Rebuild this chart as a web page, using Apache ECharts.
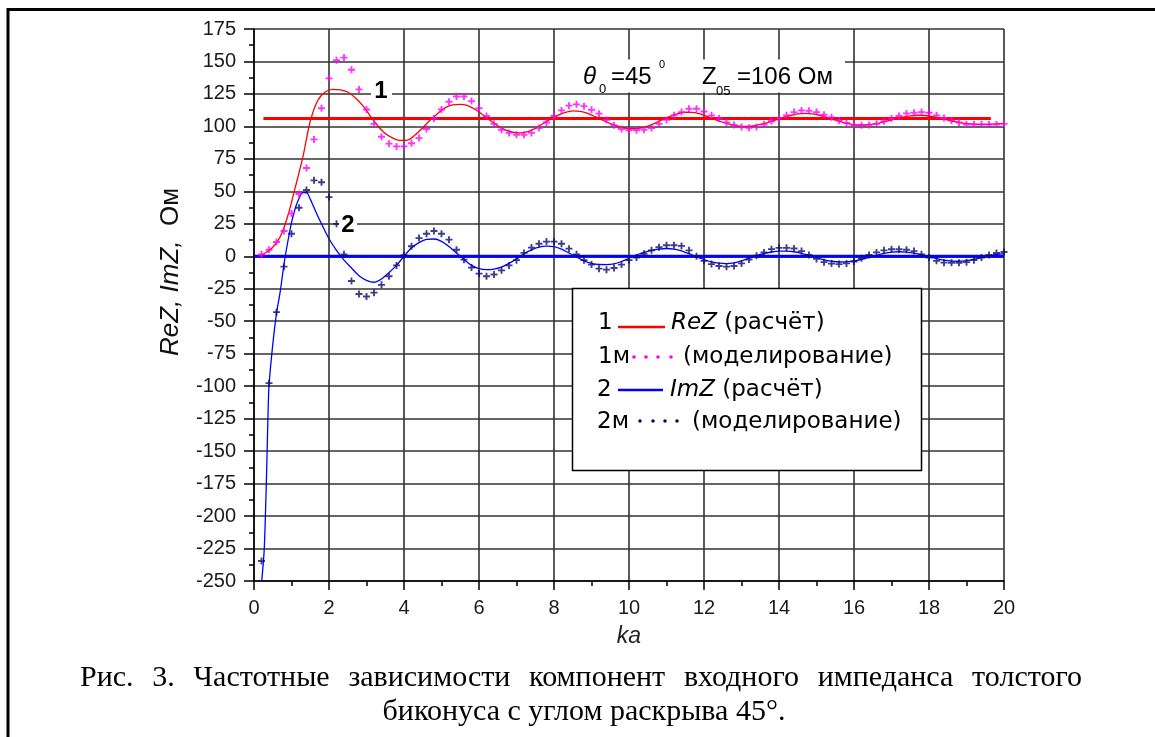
<!DOCTYPE html>
<html>
<head>
<meta charset="utf-8">
<script src="https://cdn.jsdelivr.net/npm/echarts@6/dist/echarts.min.js"></script>
<style>
html, body { margin: 0; padding: 0; background: #fff; }
#chart { width: 1155px; height: 737px; }
</style>
</head>
<body>
<div id="chart"></div>
<script>
// ka для моделирования (точки 1м, 2м)
var kaSim = [0.2,0.4,0.6,0.8,1.0,1.2,1.4,1.6,1.8,2.0,2.2,2.4,2.6,2.8,3.0,3.2,3.4,3.6,3.8,4.0,
  4.2,4.4,4.6,4.8,5.0,5.2,5.4,5.6,5.8,6.0,6.2,6.4,6.6,6.8,7.0,7.2,7.4,7.6,7.8,8.0,
  8.2,8.4,8.6,8.8,9.0,9.2,9.4,9.6,9.8,10.0,10.2,10.4,10.6,10.8,11.0,11.2,11.4,11.6,11.8,12.0,
  12.2,12.4,12.6,12.8,13.0,13.2,13.4,13.6,13.8,14.0,14.2,14.4,14.6,14.8,15.0,15.2,15.4,15.6,15.8,16.0,
  16.2,16.4,16.6,16.8,17.0,17.2,17.4,17.6,17.8,18.0,18.2,18.4,18.6,18.8,19.0,19.2,19.4,19.6,19.8,20.0];
var reSim = [1.5,5,11,19.5,33,48,68,90,114,137,151,153,143.6,128.5,113,102,92,86.7,84.6,84.6,
  87,91,98,106,113,119,123,123,119.5,114,108,102,97.4,95,93.6,93.6,95,98.7,103,108,
  112.3,116,117,115.6,112.8,109.8,105,100.8,98,97,97,97.4,98.7,102,105,108.5,111,113.6,113.6,111.5,
  108.5,106,103,101,99.5,99,99.5,101.5,104,106.4,108.5,111,112.3,112,111,109,107,104.6,102.6,101,
  100.8,101,102,104,106,108,110,110.5,111,110.5,108.5,106.4,104.6,103,101.5,101.5,101.5,101.5,101.5,102];
var imSim = [-234.6,-97.7,-43,-8,17.4,37.4,51,58.5,57,45.6,25,1.5,-19,-29,-31,-28,-22,-15.4,-7,0.8,
  7.7,14,17.4,19.5,17.4,12.8,5,-2.6,-8.7,-13.3,-15.4,-14,-10.8,-7,-3,2.6,6.7,9.7,11.3,11.3,
  9.7,5.9,1.5,-3,-6.4,-9.5,-10.3,-9,-6.4,-3,-1,2,4.6,7,8.5,8.5,8,4.6,0,-3.5,
  -6,-7.5,-8,-7.5,-5.5,-2.5,0.5,3,5.5,6.5,6.5,6,4,1,-2,-4.5,-5.6,-6,-5.5,-4,
  -1.5,1,3,4.6,5.4,5.4,5,4,1.5,-1,-3.5,-4.9,-5,-5,-4.5,-3,-1,1,2.5,3.3];

// расчёт ReZ
var kaRe = [0.1,0.3,0.5,0.7,0.9,1.1,1.3,1.5,1.7,1.9,2.1,2.3,2.5,2.7,2.9,3.1,3.3,3.5,3.7,3.9,
  4.1,4.3,4.5,4.7,4.9,5.1,5.3,5.5,5.7,5.9,6.1,6.3,6.5,6.7,6.9,7.1,7.3,7.5,7.7,7.9,
  8.1,8.3,8.5,8.7,8.9,9.1,9.3,9.5,9.7,9.9,10.1,10.3,10.5,10.7,10.9,11.1,11.3,11.5,11.7,11.9,
  12.1,12.3,12.5,12.7,12.9,13.1,13.3,13.5,13.7,13.9,14.1,14.3,14.5,14.7,14.9,15.1,15.3,15.5,15.7,15.9,
  16.1,16.3,16.5,16.7,16.9,17.1,17.3,17.5,17.7,17.9,18.1,18.3,18.5,18.7,18.9,19.1,19.3,19.5,19.7,19.9,20.0];
var reCalc = [0,2.5,7,15,31,53,76,104,120,126.5,128.5,128.2,126.5,122,116,108,100.5,94.5,91,89.2,
  89.5,93.5,99,105,110,114.5,116.5,117,116,113,109,104.5,100.5,97.3,95.5,95,96,98.5,102,105.5,
  108.5,110.8,112,111.6,110,107.5,104.8,102.2,100.2,98.7,98.2,98.7,100.2,102.5,105.3,107.8,109.8,110.9,110.8,109.6,
  107.6,105.3,103.2,101.5,100.4,100,100.4,101.5,103,104.9,106.8,108.4,109.6,110,109.6,108.4,106.7,104.8,103.1,101.8,
  101.1,101.1,101.7,102.8,104.2,105.7,107.1,108.1,108.6,108.4,107.6,106.3,104.9,103.6,102.6,101.9,101.6,101.6,101.8,102.1,102.3];

// расчёт ImZ
var kaIm = [0.2,0.27,0.31,0.34,0.37,0.4,0.5,0.6,0.7,0.8,0.9,1.0,1.1,1.2,1.3,1.4,1.5,1.6,1.7,1.8,
  2.0,2.2,2.4,2.6,2.8,3.0,3.2,3.4,3.6,3.8,4.0,4.2,4.4,4.6,4.8,5.0,5.2,5.4,5.6,5.8,
  6.0,6.2,6.4,6.6,6.8,7.0,7.2,7.4,7.6,7.8,8.0,8.2,8.4,8.6,8.8,9.0,9.2,9.4,9.6,9.8,
  10.0,10.2,10.4,10.6,10.8,11.0,11.2,11.4,11.6,11.8,12.0,12.2,12.4,12.6,12.8,13.0,13.2,13.4,13.6,13.8,
  14.0,14.2,14.4,14.6,14.8,15.0,15.2,15.4,15.6,15.8,16.0,16.2,16.4,16.6,16.8,17.0,17.2,17.4,17.6,17.8,
  18.0,18.2,18.4,18.6,18.8,19.0,19.2,19.4,19.6,19.8,20.0];
var imCalc = [-252,-227,-194,-162,-126,-100,-68,-44,-27,-6,11,26,37,44.5,49,49,44,37.5,31,25,
  13.5,4.5,-3,-9,-15,-18.5,-20,-17.5,-12.5,-7,0,6.5,10.5,13,13.3,11.5,7.5,2.5,-2.5,-7,
  -9.5,-10.2,-9.8,-8.3,-5.5,-2,2,5,7,7.8,7.5,5.5,2.5,-0.5,-3.5,-5.5,-6.3,-6.4,-5.8,-4,
  -1.5,1,3,4.5,5.5,6,5.5,4.2,2,-0.5,-2.5,-4.3,-5.3,-5.6,-5,-3.5,-1.5,0.5,2,3.3,
  4,4,3.5,2.3,0.7,-1,-2.7,-3.8,-4.4,-4.3,-3.6,-2.3,-0.8,0.8,2.2,3.2,3.5,3.2,2.4,1.2,
  -0.3,-1.8,-3,-3.7,-3.8,-3.3,-2.3,-1,0.3,1.4,2];

// уровни Z0б и нуля
var zLevel = 106;
var zLevelKa = [0.25, 19.65];
var zeroKa = [0, 20];

var yTicks = {min: -250, max: 175, step: 25};
var xTicks = {min: 0, max: 20, step: 2};

function zip(xs, ys) {
    return xs.map(function (x, i) { return [x, ys[i]]; });
}

var plusPath = 'path://M0,2.2H2.2V0H3.8V2.2H6V3.8H3.8V6H2.2V3.8H0Z';
var sans = '"Liberation Sans", Arial, sans-serif';
var serifFont = '30px "Liberation Serif", "Times New Roman", serif';
var gridColor = '#333';

function txt(text, x, y, font, extra) {
    var st = {text: text, x: x, y: y, font: font, fill: '#000', textFill: '#000',
        align: 'left', textAlign: 'left', verticalAlign: 'middle', textVerticalAlign: 'middle'};
    for (var k in extra) st[k] = extra[k];
    return {type: 'text', z: 100, style: st};
}

// строка подписи, выровненная по ширине (как в документе)
function justifiedLine(line, x0, x1, y, font) {
    var ctx = document.createElement('canvas').getContext('2d');
    ctx.font = font;
    var words = line.split(' ');
    var widths = words.map(function (w) { return ctx.measureText(w).width; });
    var total = widths.reduce(function (a, b) { return a + b; }, 0);
    var gap = (x1 - x0 - total) / (words.length - 1);
    var out = [];
    var x = x0;
    words.forEach(function (w, i) {
        out.push(txt(w, x, y, font));
        x += widths[i] + gap;
    });
    return out;
}

var legendFont = '23px "DejaVu Sans", sans-serif';
var legendItalic = {rich: {i: {fontStyle: 'italic', font: 'italic 23px "DejaVu Sans", sans-serif'}}};

var graphics = [
    // рамка рисунка
    {type: 'line', z: 100, shape: {x1: 8, y1: 9.5, x2: 1160, y2: 9.5}, style: {stroke: '#000', lineWidth: 3}},
    {type: 'line', z: 100, shape: {x1: 8, y1: 8, x2: 8, y2: 740}, style: {stroke: '#000', lineWidth: 3}},

    // подпись оси Y
    {type: 'text', z: 100, rotation: Math.PI / 2, x: 171, y: 272,
        style: {text: '{i|ReZ, ImZ,}{n|  Ом}', x: 0, y: 0, fill: '#111', textFill: '#111',
            align: 'center', textAlign: 'center', verticalAlign: 'middle', textVerticalAlign: 'middle',
            rich: {
                i: {fontStyle: 'italic', font: 'italic 26px ' + sans, fill: '#111', textFill: '#111'},
                n: {font: '26px ' + sans, fill: '#111', textFill: '#111'}
            }}},

    // подпись параметров
    {type: 'rect', z: 90, shape: {x: 555, y: 59.5, width: 290, height: 33}, style: {fill: '#fff'}},
    txt('θ', 583, 77, 'italic 24px ' + sans),
    txt('0', 599, 89, '13px ' + sans),
    txt('=45', 611, 77, '24px ' + sans),
    txt('0', 659, 65, '11px ' + sans),
    txt('Z', 702, 77, '24px ' + sans),
    txt('05', 716, 91, '13px ' + sans),
    txt('=106 Ом', 737, 77, '24px ' + sans),

    // номера кривых
    {type: 'rect', z: 90, shape: {x: 371, y: 84, width: 21, height: 17}, style: {fill: '#fff'}},
    txt('1', 381, 91, 'bold 24px ' + sans, {align: 'center', textAlign: 'center'}),
    {type: 'rect', z: 90, shape: {x: 339, y: 216, width: 18, height: 17}, style: {fill: '#fff'}},
    txt('2', 348, 225, 'bold 24px ' + sans, {align: 'center', textAlign: 'center'}),

    // легенда
    {type: 'rect', z: 90, shape: {x: 572.5, y: 288.5, width: 349, height: 182}, style: {fill: '#fff', stroke: '#000', lineWidth: 1.5}},
    txt('1', 598, 323, legendFont),
    {type: 'line', z: 100, shape: {x1: 618, y1: 327, x2: 665, y2: 327}, style: {stroke: '#ff0000', lineWidth: 2.5}},
    txt('{i|ReZ} (расчёт)', 671, 323, legendFont, legendItalic),
    txt('1м', 598, 357, legendFont),
    {type: 'circle', z: 100, shape: {cx: 634, cy: 357, r: 1.8}, style: {fill: '#ff00ff'}},
    {type: 'circle', z: 100, shape: {cx: 646, cy: 357, r: 1.8}, style: {fill: '#ff00ff'}},
    {type: 'circle', z: 100, shape: {cx: 658, cy: 357, r: 1.8}, style: {fill: '#ff00ff'}},
    {type: 'circle', z: 100, shape: {cx: 671, cy: 357, r: 1.8}, style: {fill: '#ff00ff'}},
    txt('(моделирование)', 683, 357, legendFont),
    txt('2', 597, 390, legendFont),
    {type: 'line', z: 100, shape: {x1: 618, y1: 390, x2: 663, y2: 390}, style: {stroke: '#0000ff', lineWidth: 2.5}},
    txt('{i|ImZ} (расчёт)', 670, 390, legendFont, legendItalic),
    txt('2м', 597, 422, legendFont),
    {type: 'circle', z: 100, shape: {cx: 640, cy: 421, r: 1.8}, style: {fill: '#0c0c6e'}},
    {type: 'circle', z: 100, shape: {cx: 653, cy: 421, r: 1.8}, style: {fill: '#0c0c6e'}},
    {type: 'circle', z: 100, shape: {cx: 665, cy: 421, r: 1.8}, style: {fill: '#0c0c6e'}},
    {type: 'circle', z: 100, shape: {cx: 677, cy: 421, r: 1.8}, style: {fill: '#0c0c6e'}},
    txt('(моделирование)', 692, 422, legendFont),

    // подпись рисунка
    txt('биконуса с углом раскрыва 45°.', 584, 712, serifFont, {align: 'center', textAlign: 'center'})
].concat(justifiedLine('Рис. 3. Частотные зависимости компонент входного импеданса толстого', 80, 1082, 678, serifFont));

var option = {
    animation: false,
    backgroundColor: '#fff',
    grid: {left: 254, top: 29, right: 151, bottom: 156, outerBoundsMode: 'none', containLabel: false},
    xAxis: {
        type: 'value', min: xTicks.min, max: xTicks.max, interval: xTicks.step,
        name: 'ka', nameLocation: 'middle', nameGap: 44,
        nameTextStyle: {fontStyle: 'italic', fontSize: 23, fontFamily: sans, color: '#222'},
        axisLine: {onZero: false, lineStyle: {color: '#000', width: 1.5}},
        axisTick: {length: 9, lineStyle: {color: '#000', width: 1.5}},
        minorTick: {show: true, splitNumber: 2, length: 5, lineStyle: {color: '#000', width: 1.5}},
        splitLine: {show: true, lineStyle: {color: gridColor, width: 1.6}},
        axisLabel: {fontSize: 20, fontFamily: sans, color: '#1a1a1a', margin: 17}
    },
    yAxis: {
        type: 'value', min: yTicks.min, max: yTicks.max, interval: yTicks.step,
        axisLine: {onZero: false, lineStyle: {color: '#000', width: 1.5}},
        axisTick: {length: 10, lineStyle: {color: '#000', width: 1.5}},
        minorTick: {show: true, splitNumber: 2, length: 5, lineStyle: {color: '#000', width: 1.5}},
        splitLine: {show: true, lineStyle: {color: gridColor, width: 1.6}},
        axisLabel: {fontSize: 20, fontFamily: sans, color: '#1a1a1a', margin: 18}
    },
    series: [
        {
            name: 'Z0', type: 'line', z: 2, showSymbol: false, silent: true,
            data: zip(zLevelKa, [zLevel, zLevel]),
            lineStyle: {color: '#ff0000', width: 3}
        },
        {
            name: 'zero', type: 'line', z: 2, showSymbol: false, silent: true,
            data: zip(zeroKa, [0, 0]),
            lineStyle: {color: '#0000ff', width: 3}
        },
        {
            name: 'ReZ (расчёт)', type: 'line', z: 3, showSymbol: false, smooth: 0.3,
            data: zip(kaRe, reCalc),
            lineStyle: {color: '#ff0000', width: 1.3}
        },
        {
            name: 'ImZ (расчёт)', type: 'line', z: 3, showSymbol: false, smooth: 0.3,
            data: zip(kaIm, imCalc),
            lineStyle: {color: '#0000ff', width: 1.3}
        },
        {
            name: '1м', type: 'scatter', z: 4, symbol: plusPath, symbolSize: 7,
            data: zip(kaSim, reSim),
            itemStyle: {color: '#ff00ff'}
        },
        {
            name: '2м', type: 'scatter', z: 4, symbol: plusPath, symbolSize: 7,
            data: zip(kaSim, imSim),
            itemStyle: {color: '#0c0c6e'}
        }
    ],
    graphic: graphics
};

var myChart = echarts.init(document.getElementById('chart'));
myChart.setOption(option);
window.onresize = function () {
    myChart.resize();
};
</script>
</body>
</html>
